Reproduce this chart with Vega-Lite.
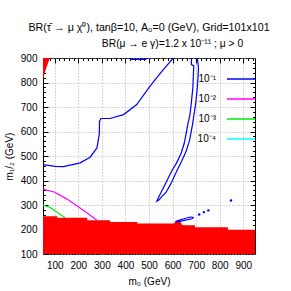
{
  "$schema": "https://vega.github.io/schema/vega-lite/v6.json",
  "width": 212,
  "height": 196,
  "autosize": "none",
  "padding": {"left": 43, "top": 58, "right": 36, "bottom": 37},
  "title": {
    "text": "BR(τ̄ → μ χ⁰), tanβ=10, A₀=0 (GeV), Grid=101x101",
    "fontSize": 10.7,
    "fontWeight": "normal",
    "color": "black",
    "font": "Liberation Sans",
    "anchor": "middle",
    "frame": "group",
    "offset": 4
  },
  "config": {
    "view": {"stroke": "black", "strokeWidth": 1},
    "font": "Liberation Sans",
    "axis": {
      "domain": false,
      "tickColor": "black",
      "labelColor": "black",
      "labelFontSize": 10,
      "labelFont": "Liberation Sans",
      "titleFont": "Liberation Sans",
      "titleFontSize": 10,
      "titleFontWeight": "normal",
      "titleColor": "black",
      "gridColor": "#aaaaaa",
      "gridDash": [1, 2],
      "gridWidth": 1
    },
    "legend": {"labelFont": "Liberation Sans"}
  },
  "datasets": {
    "red": [
      {"part": "main", "m0": 50, "lo": 100, "hi": 254},
      {"part": "main", "m0": 111, "lo": 100, "hi": 254},
      {"part": "main", "m0": 111.1, "lo": 100, "hi": 248},
      {"part": "main", "m0": 238, "lo": 100, "hi": 248},
      {"part": "main", "m0": 238.1, "lo": 100, "hi": 238},
      {"part": "main", "m0": 335, "lo": 100, "hi": 238},
      {"part": "main", "m0": 335.1, "lo": 100, "hi": 231},
      {"part": "main", "m0": 450, "lo": 100, "hi": 231},
      {"part": "main", "m0": 450.1, "lo": 100, "hi": 224},
      {"part": "main", "m0": 606, "lo": 100, "hi": 224},
      {"part": "main", "m0": 614, "lo": 100, "hi": 234},
      {"part": "main", "m0": 620, "lo": 100, "hi": 238},
      {"part": "main", "m0": 632, "lo": 100, "hi": 237},
      {"part": "main", "m0": 640, "lo": 100, "hi": 218},
      {"part": "main", "m0": 655, "lo": 100, "hi": 217},
      {"part": "main", "m0": 695, "lo": 100, "hi": 217},
      {"part": "main", "m0": 695.1, "lo": 100, "hi": 209},
      {"part": "main", "m0": 835, "lo": 100, "hi": 209},
      {"part": "main", "m0": 835.1, "lo": 100, "hi": 199},
      {"part": "main", "m0": 950, "lo": 100, "hi": 199},
      {"part": "patch", "m0": 50, "lo": 810, "hi": 900},
      {"part": "patch", "m0": 55, "lo": 830, "hi": 900},
      {"part": "patch", "m0": 60, "lo": 848, "hi": 900},
      {"part": "patch", "m0": 65, "lo": 862, "hi": 900},
      {"part": "patch", "m0": 70, "lo": 876, "hi": 900},
      {"part": "patch", "m0": 75, "lo": 889, "hi": 900},
      {"part": "patch", "m0": 80, "lo": 900, "hi": 900}
    ],
    "curves": [
      {"id": "a", "level": "10⁻¹", "k": 1, "m0": 50, "m": 465},
      {"id": "a", "level": "10⁻¹", "k": 2, "m0": 102, "m": 458},
      {"id": "a", "level": "10⁻¹", "k": 3, "m0": 137, "m": 457},
      {"id": "a", "level": "10⁻¹", "k": 4, "m0": 208, "m": 472},
      {"id": "a", "level": "10⁻¹", "k": 5, "m0": 250, "m": 495},
      {"id": "a", "level": "10⁻¹", "k": 6, "m0": 279, "m": 533},
      {"id": "a", "level": "10⁻¹", "k": 7, "m0": 289, "m": 588},
      {"id": "a", "level": "10⁻¹", "k": 8, "m0": 290, "m": 642},
      {"id": "a", "level": "10⁻¹", "k": 9, "m0": 296, "m": 653},
      {"id": "a", "level": "10⁻¹", "k": 10, "m0": 335, "m": 653},
      {"id": "a", "level": "10⁻¹", "k": 11, "m0": 392, "m": 669},
      {"id": "a", "level": "10⁻¹", "k": 12, "m0": 448, "m": 710},
      {"id": "a", "level": "10⁻¹", "k": 13, "m0": 502, "m": 782},
      {"id": "a", "level": "10⁻¹", "k": 14, "m0": 550, "m": 840},
      {"id": "a", "level": "10⁻¹", "k": 15, "m0": 603, "m": 900},
      {"id": "b", "level": "10⁻¹", "k": 1, "m0": 420, "m": 900},
      {"id": "b", "level": "10⁻¹", "k": 2, "m0": 422, "m": 894},
      {"id": "b", "level": "10⁻¹", "k": 3, "m0": 486, "m": 894},
      {"id": "b", "level": "10⁻¹", "k": 4, "m0": 488, "m": 900},
      {"id": "c", "level": "10⁻¹", "k": 1, "m0": 680, "m": 900},
      {"id": "c", "level": "10⁻¹", "k": 2, "m0": 680, "m": 873},
      {"id": "c", "level": "10⁻¹", "k": 3, "m0": 690, "m": 869},
      {"id": "c", "level": "10⁻¹", "k": 4, "m0": 688, "m": 820},
      {"id": "c", "level": "10⁻¹", "k": 5, "m0": 686, "m": 778},
      {"id": "c", "level": "10⁻¹", "k": 6, "m0": 680, "m": 720},
      {"id": "c", "level": "10⁻¹", "k": 7, "m0": 674, "m": 669},
      {"id": "c", "level": "10⁻¹", "k": 8, "m0": 665, "m": 630},
      {"id": "c", "level": "10⁻¹", "k": 9, "m0": 657, "m": 588},
      {"id": "c", "level": "10⁻¹", "k": 10, "m0": 649, "m": 550},
      {"id": "c", "level": "10⁻¹", "k": 11, "m0": 636, "m": 510},
      {"id": "c", "level": "10⁻¹", "k": 12, "m0": 616, "m": 470},
      {"id": "c", "level": "10⁻¹", "k": 13, "m0": 600, "m": 445},
      {"id": "c", "level": "10⁻¹", "k": 14, "m0": 587, "m": 420},
      {"id": "c", "level": "10⁻¹", "k": 15, "m0": 572, "m": 391},
      {"id": "c", "level": "10⁻¹", "k": 16, "m0": 553, "m": 355},
      {"id": "c", "level": "10⁻¹", "k": 17, "m0": 539, "m": 328},
      {"id": "c", "level": "10⁻¹", "k": 18, "m0": 533, "m": 315},
      {"id": "c", "level": "10⁻¹", "k": 19, "m0": 542, "m": 320},
      {"id": "c", "level": "10⁻¹", "k": 20, "m0": 558, "m": 338},
      {"id": "c", "level": "10⁻¹", "k": 21, "m0": 571, "m": 350},
      {"id": "c", "level": "10⁻¹", "k": 22, "m0": 583, "m": 370},
      {"id": "c", "level": "10⁻¹", "k": 23, "m0": 595, "m": 391},
      {"id": "c", "level": "10⁻¹", "k": 24, "m0": 608, "m": 418},
      {"id": "c", "level": "10⁻¹", "k": 25, "m0": 621, "m": 445},
      {"id": "c", "level": "10⁻¹", "k": 26, "m0": 639, "m": 480},
      {"id": "c", "level": "10⁻¹", "k": 27, "m0": 658, "m": 520},
      {"id": "c", "level": "10⁻¹", "k": 28, "m0": 673, "m": 567},
      {"id": "c", "level": "10⁻¹", "k": 29, "m0": 677, "m": 588},
      {"id": "c", "level": "10⁻¹", "k": 30, "m0": 685, "m": 630},
      {"id": "c", "level": "10⁻¹", "k": 31, "m0": 691, "m": 669},
      {"id": "c", "level": "10⁻¹", "k": 32, "m0": 699, "m": 720},
      {"id": "c", "level": "10⁻¹", "k": 33, "m0": 705, "m": 778},
      {"id": "c", "level": "10⁻¹", "k": 34, "m0": 708, "m": 820},
      {"id": "c", "level": "10⁻¹", "k": 35, "m0": 710, "m": 860},
      {"id": "c", "level": "10⁻¹", "k": 36, "m0": 705, "m": 900},
      {"id": "d", "level": "10⁻¹", "k": 1, "m0": 612, "m": 232},
      {"id": "d", "level": "10⁻¹", "k": 2, "m0": 640, "m": 242},
      {"id": "d", "level": "10⁻¹", "k": 3, "m0": 675, "m": 251},
      {"id": "d", "level": "10⁻¹", "k": 4, "m0": 688, "m": 249},
      {"id": "d", "level": "10⁻¹", "k": 5, "m0": 683, "m": 244},
      {"id": "d", "level": "10⁻¹", "k": 6, "m0": 650, "m": 237},
      {"id": "d", "level": "10⁻¹", "k": 7, "m0": 625, "m": 232},
      {"id": "d", "level": "10⁻¹", "k": 8, "m0": 612, "m": 232},
      {"id": "e", "level": "10⁻²", "k": 1, "m0": 50, "m": 365},
      {"id": "e", "level": "10⁻²", "k": 2, "m0": 100, "m": 352},
      {"id": "e", "level": "10⁻²", "k": 3, "m0": 150, "m": 325},
      {"id": "e", "level": "10⁻²", "k": 4, "m0": 200, "m": 293},
      {"id": "e", "level": "10⁻²", "k": 5, "m0": 240, "m": 265},
      {"id": "e", "level": "10⁻²", "k": 6, "m0": 279, "m": 238},
      {"id": "f", "level": "10⁻³", "k": 1, "m0": 50, "m": 300},
      {"id": "f", "level": "10⁻³", "k": 2, "m0": 80, "m": 290},
      {"id": "f", "level": "10⁻³", "k": 3, "m0": 102, "m": 276},
      {"id": "f", "level": "10⁻³", "k": 4, "m0": 125, "m": 260},
      {"id": "f", "level": "10⁻³", "k": 5, "m0": 144, "m": 248}
    ],
    "dots": [
      {"level": "10⁻¹", "m0": 713, "m": 261},
      {"level": "10⁻¹", "m0": 733, "m": 271},
      {"level": "10⁻¹", "m0": 752, "m": 278},
      {"level": "10⁻¹", "m0": 848, "m": 318}
    ]
  },
  "layer": [
    {
      "data": {"name": "red"},
      "transform": [{"filter": "datum.part == 'main'"}],
      "mark": {"type": "area", "color": "#ff0000", "clip": true, "opacity": 1},
      "encoding": {
        "x": {"field": "m0", "type": "quantitative", "scale": {"domain": [50, 950], "nice": false, "zero": false},
          "axis": {"orient": "bottom", "values": [100, 200, 300, 400, 500, 600, 700, 800, 900], "grid": true, "tickSize": -5, "labelPadding": 11, "title": "m₀ (GeV)", "titlePadding": 6}},
        "y": {"field": "hi", "type": "quantitative", "scale": {"domain": [100, 900], "nice": false, "zero": false},
          "axis": {"orient": "left", "values": [100, 200, 300, 400, 500, 600, 700, 800, 900], "grid": true, "tickSize": -5, "labelPadding": 11, "title": "m₁/₂ (GeV)", "titlePadding": 6}},
        "y2": {"field": "lo"}
      }
    },
    {
      "data": {"name": "red"},
      "transform": [{"filter": "datum.part == 'patch'"}],
      "mark": {"type": "area", "color": "#ff0000", "clip": true, "opacity": 1},
      "encoding": {
        "x": {"field": "m0", "type": "quantitative",
          "axis": {"orient": "bottom", "values": [60, 80, 120, 140, 160, 180, 220, 240, 260, 280, 320, 340, 360, 380, 420, 440, 460, 480, 520, 540, 560, 580, 620, 640, 660, 680, 720, 740, 760, 780, 820, 840, 860, 880, 920, 940], "grid": false, "labels": false, "tickSize": -2.5, "title": null}},
        "y": {"field": "hi", "type": "quantitative",
          "axis": {"orient": "left", "values": [120, 140, 160, 180, 220, 240, 260, 280, 320, 340, 360, 380, 420, 440, 460, 480, 520, 540, 560, 580, 620, 640, 660, 680, 720, 740, 760, 780, 820, 840, 860, 880], "grid": false, "labels": false, "tickSize": -2.5, "title": null}},
        "y2": {"field": "lo"}
      }
    },
    {
      "data": {"name": "curves"},
      "mark": {"type": "line", "strokeWidth": 1.2, "clip": true},
      "encoding": {
        "x": {"field": "m0", "type": "quantitative",
          "axis": {"orient": "top", "values": [100, 200, 300, 400, 500, 600, 700, 800, 900], "grid": false, "labels": false, "tickSize": -5,
            "title": "BR(μ → e γ)=1.2 x 10⁻¹¹ ; μ > 0", "titleFontSize": 10.3, "titleX": 129, "titleY": -12, "titleAlign": "center", "titleBaseline": "alphabetic", "titleAnchor": "middle"}},
        "y": {"field": "m", "type": "quantitative",
          "axis": {"orient": "right", "values": [200, 300, 400, 500, 600, 700, 800], "grid": false, "labels": false, "tickSize": -5, "title": null}},
        "color": {"field": "level", "type": "nominal",
          "scale": {"domain": ["10⁻¹", "10⁻²", "10⁻³", "10⁻⁴"], "range": ["#0000ff", "#ff00ff", "#00ee00", "#00ffff"]},
          "legend": {"orient": "none", "legendX": 183, "legendY": 6, "title": null, "symbolType": "stroke", "symbolSize": 784, "symbolStrokeWidth": 1.5, "labelAlign": "right", "labelOffset": -40, "labelFontSize": 10, "labelColor": "black", "rowPadding": -2, "padding": 0}},
        "detail": {"field": "id"},
        "order": {"field": "k", "type": "quantitative"}
      }
    },
    {
      "data": {"name": "dots"},
      "mark": {"type": "point", "filled": true, "size": 6, "opacity": 1},
      "encoding": {
        "x": {"field": "m0", "type": "quantitative",
          "axis": {"orient": "top", "values": [60, 80, 120, 140, 160, 180, 220, 240, 260, 280, 320, 340, 360, 380, 420, 440, 460, 480, 520, 540, 560, 580, 620, 640, 660, 680, 720, 740, 760, 780, 820, 840, 860, 880, 920, 940], "grid": false, "labels": false, "tickSize": -2.5, "title": null}},
        "y": {"field": "m", "type": "quantitative",
          "axis": {"orient": "right", "values": [120, 140, 160, 180, 220, 240, 260, 280, 320, 340, 360, 380, 420, 440, 460, 480, 520, 540, 560, 580, 620, 640, 660, 680, 720, 740, 760, 780, 820, 840, 860, 880], "grid": false, "labels": false, "tickSize": -2.5, "title": null}},
        "color": {"field": "level", "type": "nominal"}
      }
    }
  ],
  "resolve": {"axis": {"x": "independent", "y": "independent"}}
}
